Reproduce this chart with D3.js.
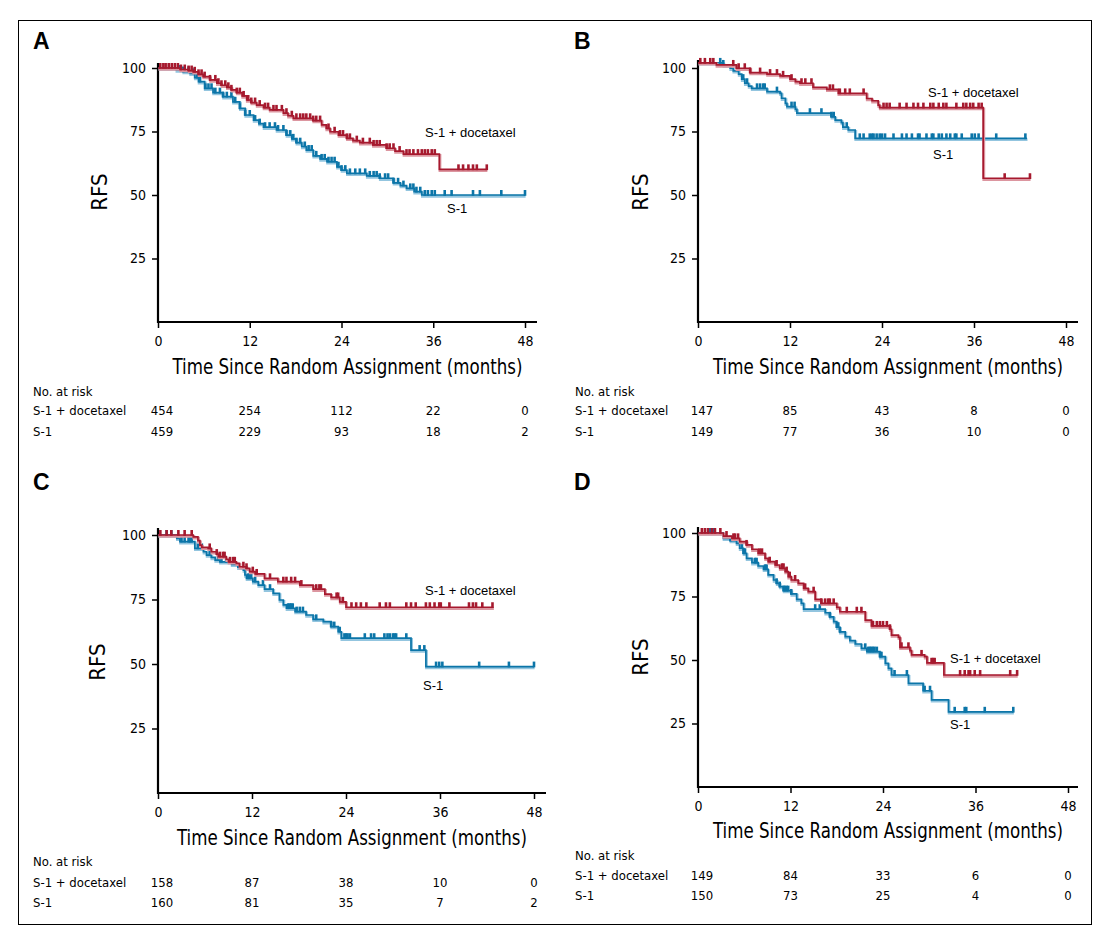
<!DOCTYPE html>
<html lang="en">
<head>
<meta charset="UTF-8">
<title>RFS by arm</title>
<script src="https://d3js.org/d3.v7.min.js"></script>
<style>
  body { margin: 0; background: #fff; }
  svg { display: block; }
  .tick text { font-family: "Liberation Sans Narrow", "Arial Narrow", "DejaVu Sans Condensed", "Liberation Sans", sans-serif; font-size: 14px; fill: #000; }
  .tick line { stroke: #000; stroke-width: 1.5; }
</style>
</head>
<body>
<svg width="1112" height="942"></svg>
<script>
// ---- data ----
const months = [0, 12, 24, 36, 48];
const yTicks = [25, 50, 75, 100];
const groups = ["S-1 + docetaxel", "S-1"];

// numbers at risk
const riskA_doc = [454, 254, 112, 22, 0];
const riskA_s1  = [459, 229, 93, 18, 2];
const riskB_doc = [147, 85, 43, 8, 0];
const riskB_s1  = [149, 77, 36, 10, 0];
const riskC_doc = [158, 87, 38, 10, 0];
const riskC_s1  = [160, 81, 35, 7, 2];
const riskD_doc = [149, 84, 33, 6, 0];
const riskD_s1  = [150, 73, 25, 4, 0];

// step points [month, RFS %]; last point marks the end of follow-up
const stepsA_doc = [[0,100],[2.9,99.4],[4.0,99],[4.6,98.5],[5.3,97.5],[5.9,96.6],[6.8,95.3],[7.7,94],[8.3,93.2],[9.0,92.4],[9.6,91.4],[10.3,90.3],[11.0,89],[11.6,87.4],[12.2,86.4],[12.9,85.4],[13.8,84.4],[14.6,83.5],[16.4,82.2],[17.0,81.2],[17.7,80.2],[20.3,79.3],[21.4,77.6],[22.0,76.2],[22.5,74.9],[23.6,73.6],[24.7,72.3],[25.5,71.4],[26.4,70.6],[28.1,69.7],[29.9,68.4],[31.0,67.3],[32.1,66.1],[36.8,60.1],[43.0,60.1]];
const censA_doc = [0.3,0.7,1.0,1.4,1.8,2.2,2.6,3.0,3.5,4.0,4.4,4.8,5.3,5.7,6.1,6.8,7.5,7.9,8.3,8.8,9.2,9.6,10.3,10.7,11.2,11.8,12.2,12.7,13.3,14.0,14.4,15.1,15.5,16.2,16.8,17.5,18.1,18.6,19.0,19.4,19.9,20.3,20.7,21.2,22.3,23.1,23.8,24.2,24.7,25.1,26.0,26.8,27.7,28.2,28.6,29.0,29.9,30.3,30.8,31.6,32.5,32.9,33.4,34.0,34.5,34.9,35.3,35.8,36.2,39.3,39.9,40.6,41.2,41.7,43.0];
const stepsA_s1 = [[0,100],[2.4,99.2],[3.3,98.6],[4.2,97.9],[4.8,96.2],[5.3,94.6],[6.1,92],[7.2,90.3],[8.5,88.7],[9.8,86.7],[10.7,84.1],[11.4,81.5],[12.5,79.5],[13.2,78.1],[13.8,76.7],[15.5,75.6],[16.8,73.6],[17.5,72.1],[18.1,70.6],[18.8,69.1],[19.4,67.7],[20.3,65.4],[21.2,64.2],[22.1,63.1],[23.4,61.1],[24.0,59.8],[24.7,58.5],[27.3,57.5],[29.0,56.6],[30.8,54.8],[31.7,53.7],[32.5,52.6],[33.5,51.3],[34.5,50],[48,50]];
const censA_s1 = [2.7,3.3,4.0,4.6,5.1,5.5,6.2,6.6,7.0,7.5,8.1,8.5,9.0,9.6,10.1,10.7,11.4,12.0,12.7,13.3,14.0,14.6,15.3,15.7,16.4,16.8,17.3,17.7,18.1,18.6,19.2,19.7,20.1,20.7,21.4,21.8,22.3,22.7,23.1,23.6,24.0,24.5,25.1,25.8,26.4,27.1,27.7,28.2,28.6,29.0,29.7,30.1,30.8,31.4,32.1,33.0,33.4,33.8,34.3,34.9,35.3,35.8,36.2,37.5,38.4,41.2,42.1,44.9,48];

const stepsB_doc = [[0,102],[2.4,101.2],[5.0,99.9],[6.8,98.2],[9.0,97.6],[10.7,96.9],[12.0,95.6],[12.7,94.6],[13.3,94],[15.0,92.4],[16.8,91.6],[18.3,90],[22.0,88],[22.7,87.1],[23.5,85.4],[23.7,84.4],[37.2,56.6],[43.3,56.6]];
const censB_doc = [0.3,0.9,1.6,2.0,4.6,5.3,6.1,6.8,8.1,9.4,10.3,11.1,12.2,13.5,14.0,14.8,17.2,17.6,18.5,19.2,19.8,21.6,24.2,24.6,25.0,26.3,27.2,28.1,28.7,29.4,30.3,30.7,31.4,32.0,32.4,33.7,34.6,35.0,35.5,35.9,36.6,37.0,40.0,43.3];
const stepsB_s1 = [[0,102],[3.3,101.2],[4.2,99.9],[4.6,98.9],[5.3,97.6],[5.7,95.6],[6.1,94],[6.6,92.9],[7.0,92],[9.0,90.7],[10.7,90],[10.9,88.1],[11.4,86.1],[11.6,84.8],[12.7,83.7],[12.9,82.2],[17.4,80.8],[17.9,79.5],[18.7,78.5],[18.9,76.7],[19.6,75.6],[20.5,72.3],[42.9,72.3]];
const censB_s1 = [2.9,3.3,5.9,6.4,7.7,8.1,8.5,8.7,10.3,12.2,12.6,14.6,16.1,17.4,17.7,19.4,21.1,21.6,22.4,22.7,22.9,23.3,23.7,24.0,24.4,25.5,26.6,27.2,27.9,28.7,28.9,29.8,30.5,30.7,31.4,31.8,32.4,32.9,33.5,33.7,34.4,35.7,36.1,36.6,38.9,42.7];

const stepsC_doc = [[0,100],[4.5,99.3],[5.1,97.8],[5.35,96.1],[5.6,95.2],[6.4,94.8],[6.8,93.5],[7.5,92.6],[7.7,91.6],[8.7,90.6],[9.0,89.6],[10.0,89],[10.4,87.7],[11.3,87.1],[11.7,85.8],[12.4,84.9],[13.6,83.2],[15.3,81.9],[18.1,80.6],[19.8,79],[21.3,77.1],[22.1,75.8],[23.2,74.1],[24.0,72],[42.8,72]];
const censC_doc = [0.3,1.1,1.7,2.6,3.4,4.3,6.6,7.5,7.9,8.3,8.5,9.2,9.6,9.8,10.9,11.3,12.1,12.6,14.3,16.0,16.4,17.0,17.5,18.3,20.2,20.6,20.8,22.8,23.0,23.6,24.7,25.3,25.9,26.6,28.3,29.1,29.6,31.7,32.3,32.9,34.2,34.7,35.3,35.9,36.1,37.2,39.7,40.2,40.6,41.4,42.7];
const stepsC_s1 = [[0,100],[2.4,98.7],[2.8,97.4],[4.7,94.8],[5.8,93.5],[6.2,92.2],[6.8,91.3],[7.3,90.3],[7.9,89.6],[9.4,88.6],[10.2,87.5],[10.9,86.4],[11.1,84.5],[11.3,83.2],[12.1,81.9],[12.8,80.6],[13.6,79],[14.7,77.4],[15.5,74.8],[16.0,72.9],[16.4,71.6],[17.5,70.3],[18.9,69],[19.8,67.3],[21.1,66.4],[22.1,64.5],[23.0,62.5],[23.4,60],[32.3,55.4],[34.2,49],[48,49]];
const censC_s1 = [1.1,1.7,3.0,3.4,3.9,4.1,4.3,5.1,5.6,6.6,7.7,8.1,8.7,11.5,11.7,11.9,12.4,13.4,14.3,16.6,16.8,17.0,17.2,17.7,18.1,18.5,20.2,22.1,22.5,23.2,23.8,24.0,24.2,24.5,26.4,27.2,27.6,28.9,29.3,29.6,30.0,30.2,30.4,31.7,33.4,34.0,35.5,35.9,36.3,41.0,44.8,48];

const stepsD_doc = [[0,100],[3.3,98.8],[4.4,97.9],[5.4,96.6],[6.3,95.3],[7.0,93.6],[7.8,92],[8.7,90],[9.1,88.7],[10.0,87.4],[10.6,86.1],[11.3,84.8],[11.7,82.8],[12.1,81.5],[13.0,80.2],[13.7,78.2],[14.3,76.9],[15.2,73.9],[16.0,72.3],[18.0,70.7],[18.4,69],[21.7,65.7],[22.5,63.4],[24.9,62.1],[25.1,59.8],[26.0,58.9],[26.2,55],[27.5,53.7],[27.7,52],[29.4,51.3],[29.7,48.9],[31.9,44.1],[41.4,44.1]];
const censD_doc = [0.5,0.9,1.3,1.8,2.2,2.9,3.7,4.6,4.8,5.2,6.3,8.0,8.3,9.3,10.2,10.9,11.1,11.5,11.9,12.6,13.9,15.0,16.0,16.5,16.9,17.1,17.6,19.3,20.6,21.2,22.7,23.2,23.6,24.0,24.5,24.9,26.4,27.3,29.0,30.3,30.5,30.7,34.0,34.6,35.1,35.3,35.9,36.6,40.5,41.4];
const stepsD_s1 = [[0,100],[3.3,97.9],[4.2,97],[5.0,95.9],[5.4,94],[5.9,92],[6.3,90],[7.0,88.3],[7.8,87],[8.5,85.7],[9.1,83.5],[9.8,81.5],[10.2,80.2],[10.6,78.9],[11.1,77.3],[12.1,76],[12.8,73.9],[13.4,72.3],[13.7,70],[16.5,68.6],[17.1,67],[17.6,65.1],[18.0,62.9],[18.4,61.1],[19.1,59.2],[19.7,57.6],[20.4,56.3],[21.2,54.6],[21.9,53.3],[23.6,51.3],[24.3,48.7],[24.7,46.7],[25.1,44.1],[27.3,40.8],[29.2,37.9],[30.3,34.3],[32.5,29.6],[40.9,29.6]];
const censD_s1 = [1.6,1.8,2.0,4.2,5.7,5.9,6.1,7.4,7.6,8.7,8.9,10.2,10.6,11.1,11.3,11.5,11.7,12.1,15.2,15.8,17.1,18.0,18.2,18.4,21.7,22.1,22.3,22.5,22.7,22.9,23.2,23.6,23.8,25.5,27.1,29.4,30.1,33.3,34.6,34.8,37.2,40.9];

// ---- layout ----
const NARROW = '"Liberation Sans Narrow", "Arial Narrow", "DejaVu Sans Condensed", "Liberation Sans", sans-serif';
const REG = '"Liberation Sans", Arial, sans-serif';
const RED = "#a6192e", RED_HALO = "#dc96a0";
const BLUE = "#0b75a8", BLUE_HALO = "#93c5df";

const panels = [
  { letter: "A", lx: 33, ly: 49, x0: 158, x48: 525, xEnd: 537, y0: 322, y100: 68, yTop: 63, rfsX: 100, rfsY: 192,
    tickY: 346, titleY: 374, narY: 396, rowY: [415, 436], labelX: 33,
    doc: { steps: stepsA_doc, cens: censA_doc, risk: riskA_doc, lab: [425, 137] },
    s1:  { steps: stepsA_s1,  cens: censA_s1,  risk: riskA_s1,  lab: [447, 213] } },
  { letter: "B", lx: 574, ly: 49, x0: 698, x48: 1066, xEnd: 1078, y0: 322, y100: 68, yTop: 60, rfsX: 641, rfsY: 192,
    tickY: 346, titleY: 374, narY: 396, rowY: [415, 436], labelX: 575,
    doc: { steps: stepsB_doc, cens: censB_doc, risk: riskB_doc, lab: [928, 97] },
    s1:  { steps: stepsB_s1,  cens: censB_s1,  risk: riskB_s1,  lab: [933, 159] } },
  { letter: "C", lx: 33, ly: 490, x0: 158, x48: 534, xEnd: 546, y0: 793, y100: 535, yTop: 528, rfsX: 98, rfsY: 662,
    tickY: 817, titleY: 845, narY: 866, rowY: [887, 907], labelX: 33,
    doc: { steps: stepsC_doc, cens: censC_doc, risk: riskC_doc, lab: [425, 595] },
    s1:  { steps: stepsC_s1,  cens: censC_s1,  risk: riskC_s1,  lab: [423, 690] } },
  { letter: "D", lx: 574, ly: 490, x0: 698, x48: 1068, xEnd: 1078, y0: 787, y100: 533, yTop: 527, rfsX: 641, rfsY: 657,
    tickY: 811, titleY: 838, narY: 860, rowY: [880, 900], labelX: 575,
    doc: { steps: stepsD_doc, cens: censD_doc, risk: riskD_doc, lab: [950, 663] },
    s1:  { steps: stepsD_s1,  cens: censD_s1,  risk: riskD_s1,  lab: [950, 729] } }
];

const svg = d3.select("svg");

// outer frame
svg.append("rect")
  .attr("x", 18.5).attr("y", 20.5).attr("width", 1073).attr("height", 904)
  .attr("fill", "none").attr("stroke", "#000").attr("stroke-width", 1);

panels.forEach(p => {
  const g = svg.append("g");
  const x = d3.scaleLinear().domain([0, 48]).range([p.x0, p.x48]);
  const y = d3.scaleLinear().domain([0, 100]).range([p.y0, p.y100]);

  // panel letter
  g.append("text").attr("x", p.lx).attr("y", p.ly)
    .attr("font-family", REG).attr("font-weight", "bold").attr("font-size", 23)
    .text(p.letter);

  // y axis
  const ya = g.append("g").attr("transform", `translate(${p.x0},0)`)
    .call(d3.axisLeft(y).tickValues(yTicks).tickSize(6).tickPadding(6));
  ya.select(".domain").remove();
  g.append("line").attr("x1", p.x0).attr("x2", p.x0).attr("y1", p.yTop).attr("y2", p.y0 + 1)
    .attr("stroke", "#000").attr("stroke-width", 2.2);

  // x axis
  const xa = g.append("g").attr("transform", `translate(0,${p.y0})`)
    .call(d3.axisBottom(x).tickValues(months).tickSize(6).tickPadding(7));
  xa.select(".domain").remove();
  xa.selectAll(".tick text").attr("dy", null).attr("y", p.tickY - p.y0);
  g.append("line").attr("x1", p.x0 - 1).attr("x2", p.xEnd).attr("y1", p.y0).attr("y2", p.y0)
    .attr("stroke", "#000").attr("stroke-width", 2.2);

  // axis titles
  g.append("text")
    .attr("transform", `translate(${p.rfsX + 7},${p.rfsY}) rotate(-90)`)
    .attr("text-anchor", "middle").attr("font-family", NARROW).attr("font-size", 22)
    .text("RFS");
  g.append("text")
    .attr("x", (p.x0 + p.xEnd) / 2).attr("y", p.titleY)
    .attr("text-anchor", "middle").attr("font-family", NARROW).attr("font-size", 21)
    .attr("textLength", 350).attr("lengthAdjust", "spacingAndGlyphs")
    .text("Time Since Random Assignment (months)");

  // curves
  const line = d3.line().curve(d3.curveStepAfter).x(d => x(d[0])).y(d => y(d[1]));
  const bis = d3.bisector(d => d[0]).right;
  const valueAt = (steps, t) => steps[Math.max(0, bis(steps, t) - 1)][1];

  [[p.s1, BLUE, BLUE_HALO], [p.doc, RED, RED_HALO]].forEach(([s, col, halo]) => {
    g.append("path").datum(s.steps).attr("d", line)
      .attr("fill", "none").attr("stroke", halo).attr("stroke-width", 2.8)
      .attr("transform", "translate(0.6,1.3)");
    g.append("path").datum(s.steps).attr("d", line)
      .attr("fill", "none").attr("stroke", col).attr("stroke-width", 1.7);
    g.selectAll(null).data(s.cens).join("line")
      .attr("x1", t => x(t)).attr("x2", t => x(t))
      .attr("y1", t => y(valueAt(s.steps, t)) + 0.8)
      .attr("y2", t => y(valueAt(s.steps, t)) - 5)
      .attr("stroke", col).attr("stroke-width", 2.6);
  });

  // curve labels
  g.append("text").attr("x", p.doc.lab[0]).attr("y", p.doc.lab[1])
    .attr("font-family", REG).attr("font-size", 13).text(groups[0]);
  g.append("text").attr("x", p.s1.lab[0]).attr("y", p.s1.lab[1])
    .attr("font-family", REG).attr("font-size", 13).text(groups[1]);

  // numbers at risk
  g.append("text").attr("x", p.labelX).attr("y", p.narY)
    .attr("font-family", NARROW).attr("font-size", 13).text("No. at risk");
  [p.doc.risk, p.s1.risk].forEach((row, i) => {
    g.append("text").attr("x", p.labelX).attr("y", p.rowY[i])
      .attr("font-family", NARROW).attr("font-size", 13).text(groups[i]);
    g.selectAll(null).data(row).join("text")
      .attr("x", (v, j) => x(months[j]) + (j === 0 ? 4 : 0))
      .attr("y", p.rowY[i])
      .attr("text-anchor", "middle")
      .attr("font-family", NARROW).attr("font-size", 13)
      .text(v => v);
  });
});
</script>
</body>
</html>
